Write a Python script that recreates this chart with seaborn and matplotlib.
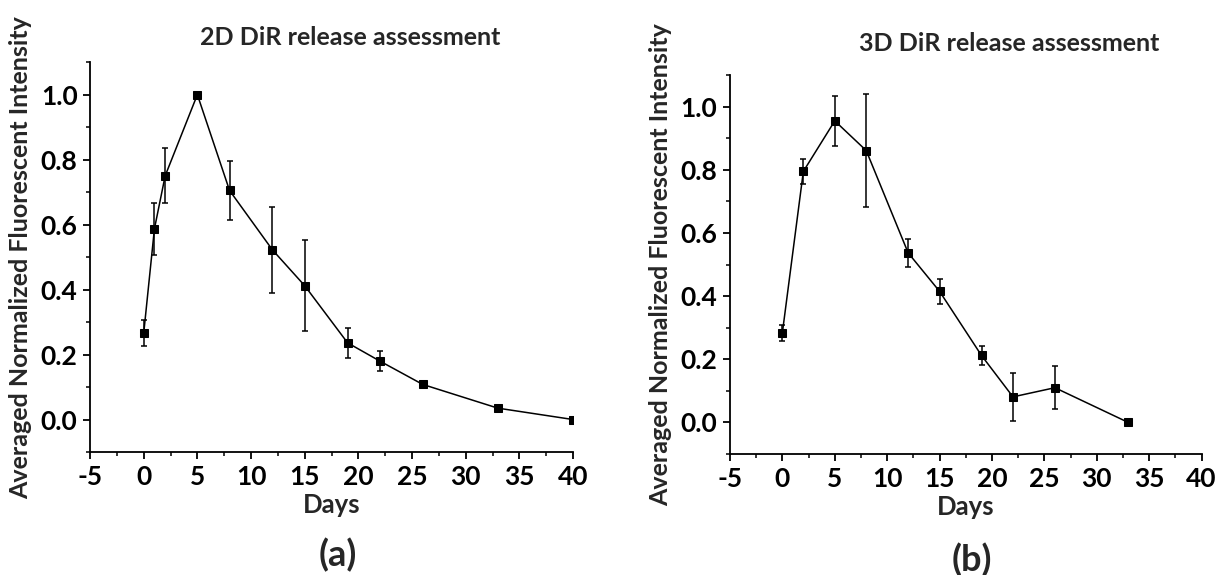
import numpy as np
import matplotlib
matplotlib.use("Agg")
import matplotlib.pyplot as plt
from matplotlib.ticker import MultipleLocator, FormatStrFormatter
import seaborn as sns

# 2D release data
days_2d = [0, 1, 2, 5, 8, 12, 15, 19, 22, 26, 33, 40]
mean_2d = [0.265, 0.587, 0.75, 1.0, 0.705, 0.522, 0.412, 0.236, 0.18, 0.108, 0.035, 0.0]
err_2d = [0.04, 0.08, 0.085, 0.0, 0.09, 0.133, 0.14, 0.047, 0.03, 0.01, 0.008, 0.006]

# 3D release data
days_3d = [0, 2, 5, 8, 12, 15, 19, 22, 26, 33]
mean_3d = [0.284, 0.795, 0.955, 0.861, 0.537, 0.415, 0.212, 0.081, 0.11, 0.0]
err_3d = [0.026, 0.04, 0.078, 0.178, 0.045, 0.04, 0.03, 0.076, 0.068, 0.006]

titles = ["2D DiR release assessment", "3D DiR release assessment"]
panel_tags = ["(a)", "(b)"]

sns.set_theme(style="ticks")
plt.rcParams['font.family'] = ['Lato', 'DejaVu Sans']
plt.rcParams['font.weight'] = 'bold'
plt.rcParams['axes.unicode_minus'] = False

fig = plt.figure(figsize=(12.15, 5.75), dpi=100)
ax_a = fig.add_axes([0.0741, 0.2139, 0.3975, 0.678])
ax_b = fig.add_axes([0.6008, 0.2104, 0.3882, 0.659])

panels = [
    (ax_a, days_2d, mean_2d, err_2d),
    (ax_b, days_3d, mean_3d, err_3d),
]

for i, (ax, d, m, e) in enumerate(panels):
    ax.errorbar(d, m, yerr=e, fmt='none', ecolor='black', elinewidth=1.1,
                capsize=2.5, capthick=1.1, zorder=2)
    sns.lineplot(x=d, y=m, marker='s', markersize=6, color='black',
                 linewidth=1.1, markeredgecolor='black', ax=ax, zorder=3)
    ax.set_xlim(-5, 40)
    ax.set_ylim(-0.1, 1.1)
    ax.xaxis.set_major_locator(MultipleLocator(5))
    ax.xaxis.set_minor_locator(MultipleLocator(2.5))
    ax.yaxis.set_major_locator(MultipleLocator(0.2))
    ax.yaxis.set_minor_locator(MultipleLocator(0.1))
    ax.yaxis.set_major_formatter(FormatStrFormatter('%.1f'))
    sns.despine(ax=ax)
    for s in ['left', 'bottom']:
        ax.spines[s].set_linewidth(1.3)
        ax.spines[s].set_color('black')
    ax.tick_params(which='major', direction='out', length=5, width=1.3,
                   labelsize=19, colors='black', pad=4)
    ax.tick_params(which='minor', direction='out', length=3, width=1.1,
                   colors='black')
    for lbl in ax.get_xticklabels() + ax.get_yticklabels():
        lbl.set_fontweight('bold')
    ax.set_xlabel("Days", fontsize=18.5, fontweight='bold', labelpad=3)
    ax.set_ylabel("Averaged Normalized Fluorescent Intensity", fontsize=18,
                  fontweight='bold', labelpad=6)

ax_a.set_title(titles[0], fontsize=18, fontweight='bold', pad=12, x=0.538)
ax_b.set_title(titles[1], fontsize=18, fontweight='bold', pad=17, x=0.591)

fig.text(0.278, 0.035, panel_tags[0], ha='center', va='center', fontsize=26, fontweight='bold')
fig.text(0.80, 0.026, panel_tags[1], ha='center', va='center', fontsize=26, fontweight='bold')

fig.savefig("out.png", dpi=100)
